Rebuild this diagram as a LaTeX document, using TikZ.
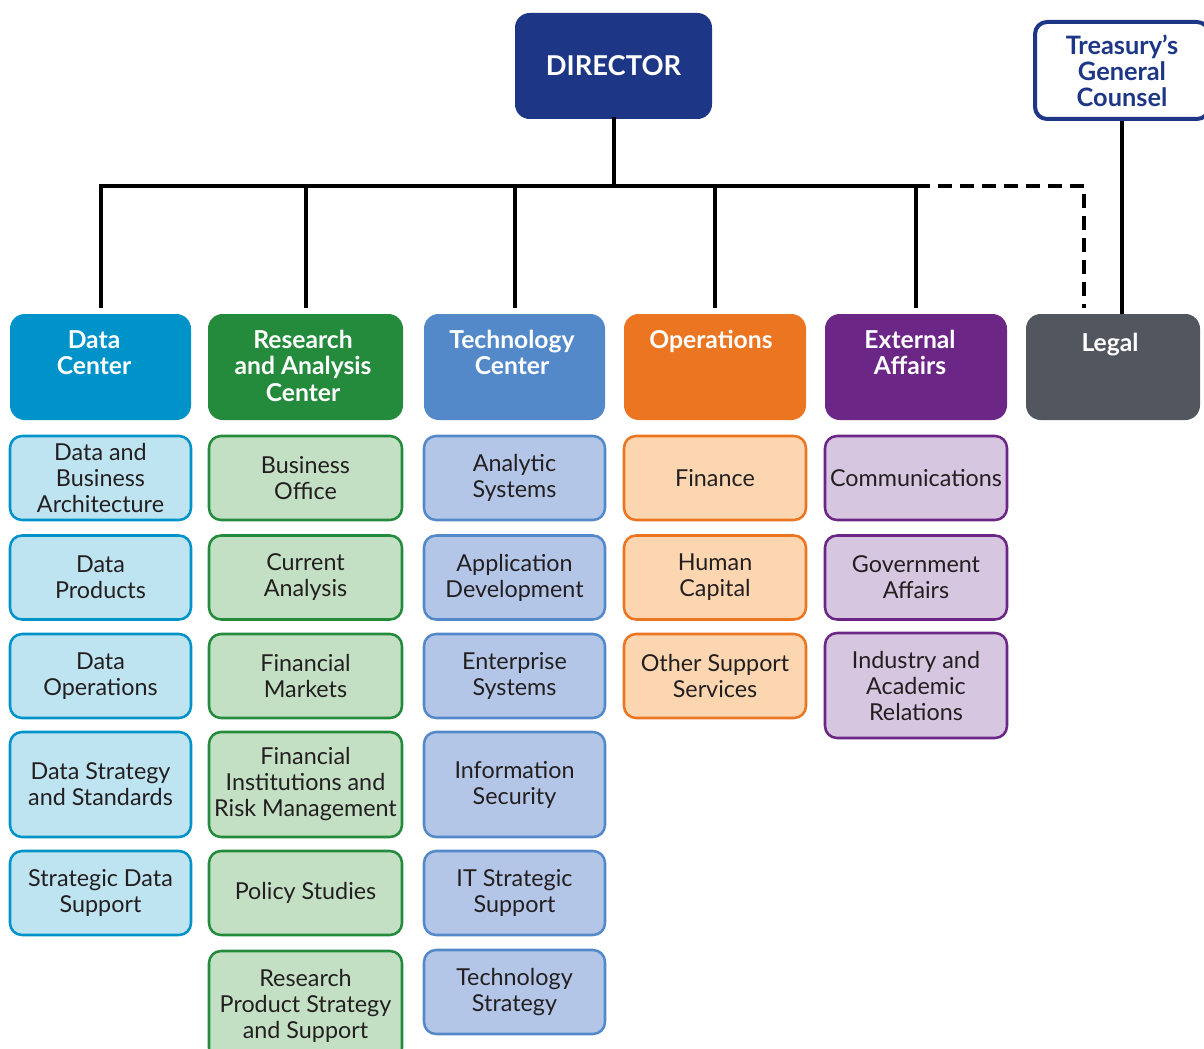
\documentclass[tikz,border=0pt]{standalone}
\usepackage{fontspec}
\setmainfont{Lato}
\definecolor{dircol}{RGB}{30,54,134}
\definecolor{dccol}{RGB}{0,147,201}
\definecolor{dclight}{RGB}{190,228,241}
\definecolor{racol}{RGB}{36,139,60}
\definecolor{ralight}{RGB}{195,224,196}
\definecolor{tccol}{RGB}{84,137,201}
\definecolor{tclight}{RGB}{180,198,231}
\definecolor{opcol}{RGB}{235,117,32}
\definecolor{oplight}{RGB}{252,214,176}
\definecolor{eacol}{RGB}{108,38,134}
\definecolor{ealight}{RGB}{214,198,224}
\definecolor{lgcol}{RGB}{82,86,94}
\definecolor{txtcol}{RGB}{35,31,32}
\begin{document}
\begin{tikzpicture}[x=0.75pt,y=-0.75pt,
  hdrbox/.style={rounded corners=11pt, draw=none, inner sep=0pt, minimum height=79.5pt},
  hdrtext/.style={anchor=north, inner sep=0pt, align=center, text=white, font=\bfseries\fontsize{18.5}{19.8}\selectfont},
  subbox/.style={rounded corners=9pt, line width=1.9pt, inner sep=0pt, align=center, text=txtcol, minimum height=63pt, font=\fontsize{17.5}{19.5}\selectfont},
  dcsub/.style={subbox, draw=dccol, fill=dclight, minimum width=135.75pt},
  rasub/.style={subbox, draw=racol, fill=ralight, minimum width=144.75pt},
  tcsub/.style={subbox, draw=tccol, fill=tclight, minimum width=135.75pt},
  opsub/.style={subbox, draw=opcol, fill=oplight, minimum width=136.5pt},
  easub/.style={subbox, draw=eacol, fill=ealight, minimum width=136.5pt},
  conn/.style={line width=3pt, line cap=rect},
  dropline/.style={line width=3pt, shorten >=4.5pt}
]
\useasboundingbox (0,0) rectangle (1204,1049);

% top boxes
\node[rounded corners=11pt, fill=dircol, minimum width=147.75pt, minimum height=79.5pt, inner sep=0pt,
      text=white, font=\bfseries\fontsize{20.5}{22}\selectfont] (dir) at (613.5,66) {DIRECTOR};
\node[rounded corners=9pt, draw=dircol, line width=3pt, fill=white, minimum width=130.5pt, minimum height=72.75pt,
      inner sep=0pt, align=center, text=dircol, font=\bfseries\fontsize{19}{19.5}\selectfont] (tgc) at (1122,70.5) {Treasury’s\\General\\Counsel};

% header boxes
\node[hdrbox, fill=dccol, minimum width=135.75pt] (dc) at (100.5,367) {};
\node[hdrbox, fill=racol, minimum width=146.25pt] (ra) at (305.5,367) {};
\node[hdrbox, fill=tccol, minimum width=135.75pt] (tc) at (514.5,367) {};
\node[hdrbox, fill=opcol, minimum width=136.5pt] (op) at (715,367) {};
\node[hdrbox, fill=eacol, minimum width=136.5pt] (ea) at (916,367) {};
\node[hdrbox, fill=lgcol, minimum width=130.5pt] (lg) at (1113,367) {};

\node[hdrtext] (dct) at (94,330) {Data\\Center};
\node[hdrtext] (rat) at (303,330) {Research\\and Analysis\\Center};
\node[hdrtext] (tct) at (512,330) {Technology\\Center};
\node[hdrtext] (opt) at (711,330) {Operations};
\node[hdrtext] (eat) at (910,330) {External\\Affairs};
\node[hdrtext] (lgt) at (1110,333) {Legal};

% connectors
\coordinate (bus) at (613.5,186);
\coordinate (dashturn) at (1084,186);
\draw[conn] (dir.south) -- (dir.south |- bus);
\draw[conn] (dc.north |- bus) -- (ea.north |- bus);
\foreach \n in {dc,ra,tc,op,ea}{
  \draw[dropline] (\n.north |- bus) -- (\n.north);
}
\draw[line width=3pt, dash pattern=on 10.5pt off 6pt, shorten >=4.5pt] (ea.north |- bus) -- (dashturn) -- (dashturn |- lg.north);
\draw[line width=3pt] (tgc.south) -- (tgc.south |- lg.north);

% Data Center column
\node[dcsub] (dc1) at (100.5,478) {Data and\\Business\\Architecture};
\node[dcsub] (dc2) at (100.5,577.5) {Data\\Products};
\node[dcsub] (dc3) at (100.5,676) {Data\\Operations};
\node[dcsub, minimum height=78.75pt] (dc4) at (100.5,784.5) {Data Strategy\\and Standards};
\node[dcsub] (dc5) at (100.5,893) {Strategic Data\\Support};

% Research column
\node[rasub] (ra1) at (305.5,478) {Business\\Office};
\node[rasub] (ra2) at (305.5,577.5) {Current\\Analysis};
\node[rasub] (ra3) at (305.5,676) {Financial\\Markets};
\node[rasub, minimum height=78.75pt] (ra4) at (305.5,784.5) {Financial\\Institutions and\\Risk Management};
\node[rasub] (ra5) at (305.5,893) {Policy Studies};
\node[rasub, minimum height=81.75pt] (ra6) at (305.5,1005.5) {Research\\Product Strategy\\and Support};

% Technology column
\node[tcsub] (tc1) at (514.5,478) {Analytic\\Systems};
\node[tcsub] (tc2) at (514.5,577.5) {Application\\Development};
\node[tcsub] (tc3) at (514.5,676) {Enterprise\\Systems};
\node[tcsub, minimum height=78.75pt] (tc4) at (514.5,784.5) {Information\\Security};
\node[tcsub] (tc5) at (514.5,893) {IT Strategic\\Support};
\node[tcsub] (tc6) at (514.5,992) {Technology\\Strategy};

% Operations column
\node[opsub] (op1) at (715,478) {Finance};
\node[opsub] (op2) at (715,577.5) {Human\\Capital};
\node[opsub] (op3) at (715,676) {Other Support\\Services};

% External Affairs column
\node[easub] (ea1) at (916,478) {Communications};
\node[easub] (ea2) at (916,577.5) {Government\\Affairs};
\node[easub, minimum height=78.75pt] (ea3) at (916,685.5) {Industry and\\Academic\\Relations};
\end{tikzpicture}
\end{document}
